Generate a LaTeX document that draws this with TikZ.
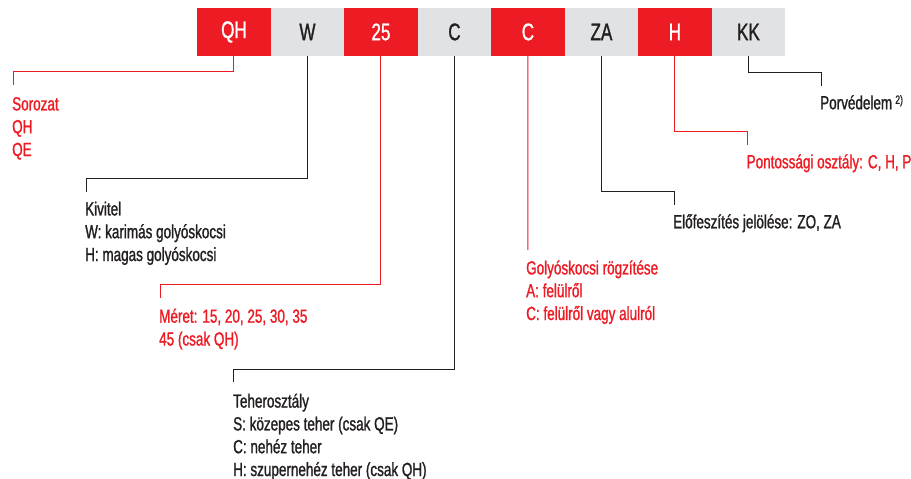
\documentclass[tikz,border=0pt]{standalone}
\usepackage{fontspec}
\setmainfont[FakeStretch=0.71,FakeBold=1.2]{Liberation Sans}
\definecolor{dinred}{HTML}{ED1C24}
\definecolor{boxgrey}{HTML}{E1E2E4}
\definecolor{ink}{HTML}{231F20}
\begin{document}
\begin{tikzpicture}[x=1pt,y=-1pt,
  codebox/.style={minimum width=73.5pt, minimum height=47.5pt, inner sep=0pt, anchor=north west, font=\fontsize{24}{24}\selectfont},
  redbox/.style={codebox, fill=dinred, text=white},
  greybox/.style={codebox, fill=boxgrey, text=ink},
  redline/.style={draw=dinred, line width=1pt},
  blackline/.style={draw=ink, line width=1pt},
  labeltext/.style={align=left, inner sep=0pt, anchor=base west, font=\fontsize{19}{22.8}\selectfont},
  redtext/.style={labeltext, text=dinred},
  blacktext/.style={labeltext, text=ink}]
\useasboundingbox (0,0) rectangle (911,479);
% code boxes
\node[redbox]  (b1) at (197,8)   {QH};
\node[greybox] (b2) at (270.5,8) {W};
\node[redbox]  (b3) at (344,8)   {25};
\node[greybox] (b4) at (417.5,8) {C};
\node[redbox]  (b5) at (491,8)   {C};
\node[greybox] (b6) at (564.5,8) {ZA};
\node[redbox]  (b7) at (638,8)   {H};
\node[greybox] (b8) at (711.5,8) {KK};
% labels (anchor = baseline of the last line)
\node[redtext]   (t1) at (12,156)    {Sorozat\\QH\\QE};
\node[blacktext] (t2) at (85,261)    {Kivitel\\W: karimás golyóskocsi\\H: magas golyóskocsi};
\node[redtext]   (t3) at (159,345.5) {Méret: 15, 20, 25, 30, 35\\45 (csak QH)};
\node[blacktext] (t4) at (233,476)   {Teherosztály\\S: közepes teher (csak QE)\\C: nehéz teher\\H: szupernehéz teher (csak QH)};
\node[redtext]   (t5) at (526,320)   {Golyóskocsi rögzítése\\A: felülről\\C: felülről vagy alulról};
\node[blacktext] (t6) at (673,228.3) {Előfeszítés jelölése: ZO, ZA};
\node[redtext]   (t7) at (746.5,168.3) {Pontossági osztály: C, H, P};
\node[blacktext] (t8) at (820,109.3) {Porvédelem\,\raisebox{5.5pt}{\fontsize{12}{12}\selectfont 2)}};
% connector ends
\coordinate (e1) at (13.3,85);
\coordinate (e2) at (86.7,191.7);
\coordinate (e3) at (160.7,298);
\coordinate (e4) at (233.3,381.7);
\coordinate (e5) at (527.75,250);
\coordinate (e6) at (674,205);
\coordinate (e7) at (747.3,145);
\coordinate (e8) at (821,85.7);
% connectors
\draw[redline]   (b1.south) -- ++(0,15.8)  -| (e1);
\draw[blackline] (b2.south) -- ++(0,122.2) -| (e2);
\draw[redline]   (b3.south) -- ++(0,228.8) -| (e3);
\draw[blackline] (b4.south) -- ++(0,313.5) -| (e4);
\draw[redline]   (b5.south) -- (e5);
\draw[blackline] (b6.south) -- ++(0,135.5) -| (e6);
\draw[redline]   (b7.south) -- ++(0,75.5)  -| (e7);
\draw[blackline] (b8.south) -- ++(0,16.2)  -| (e8);
\end{tikzpicture}
\end{document}
